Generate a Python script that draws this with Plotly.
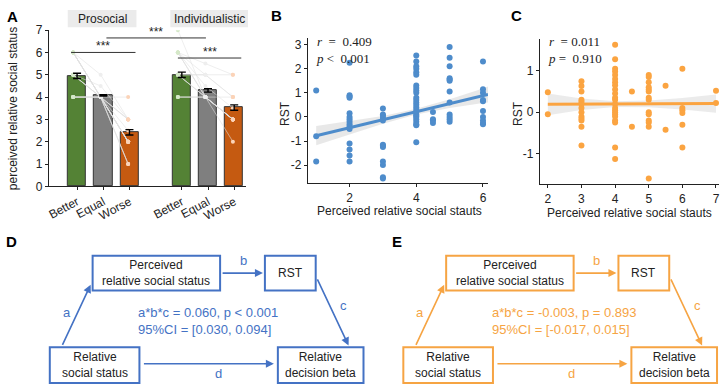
import plotly.graph_objects as go

W, H = 726, 391

# ---------------- DATA ----------------
# Panel A: bar means and SEM
a_positions = [1, 2, 3, 5, 6, 7]
a_categories = ["Better", "Equal", "Worse", "Better", "Equal", "Worse"]
a_means = [4.95, 4.08, 2.42, 5.00, 4.30, 3.53]
a_sem = [0.12, 0.03, 0.12, 0.12, 0.08, 0.12]
a_colors = ["#548235", "#7f7f7f", "#c55a11", "#548235", "#7f7f7f", "#c55a11"]
a_facets = ["Prosocial", "Individualistic"]

# individual subject values (Better, Equal, Worse)
prosocial_subjects = [
    (6, 4, 2), (6, 4, 3), (6, 5, 3), (6, 4, 2), (5, 4, 2), (5, 4, 3),
    (4, 4, 2), (4, 4, 1), (4, 4, 1), (6, 4, 2), (5, 4.5, 3), (6, 4, 2),
    (4, 4, 2), (5, 4, 4), (6, 4, 1), (4, 4, 3), (5, 4, 2), (6, 4, 2.5),
]
individualistic_subjects = [
    (7, 4, 3), (6, 5, 4), (6, 4, 3), (6, 5.5, 5), (5, 4, 3), (5, 5, 4),
    (4, 4, 3), (4, 4, 2), (6, 4, 3), (5, 4, 3), (6, 4.5, 3.5), (5, 5, 5),
    (4, 4, 4), (6, 4, 3), (5, 4, 3),
]
# significance brackets: (x_start, x_end, y, label)
brackets = [(0.77, 3.23, 6.0, "***"), (2.12, 5.92, 6.65, "***"), (4.85, 7.27, 5.75, "***")]

# Panel B scatter
b_x = ([1] * 3 + [2] * 15 + [3] * 12 + [4] * 25 + [4.5] * 4 + [5] * 12 + [6] * 10)
b_y = ([1.1, -0.8, -1.85] +
       [2.25, 0.9, 0.85, 0.8, 0.15, 0.0, -0.1, -0.2, -0.3, -0.4, -0.5, -1.1, -1.35, -1.6, -1.85] +
       [0.35, 0.1, 0.05, -0.05, -0.15, -1.15, -1.2, -1.25, -1.85, -2.0, -2.5, -2.55] +
       [2.55, 2.3, 2.1, 2.0, 1.85, 1.75, 1.3, 1.2, 1.1, 1.0, 0.8, 0.7, 0.6, 0.5, 0.4, 0.3,
        0.2, 0.1, 0.05, 0.0, -0.1, -0.2, -0.3, -0.35, -1.05] +
       [0.2, -0.1, -0.15, -0.25] +
       [2.9, 2.45, 2.1, 1.6, 1.55, 1.5, 1.05, 0.6, 0.1, 0.0, -0.1, -0.2] +
       [2.3, 1.15, 1.0, 0.7, 0.65, 0.25, 0.0, -0.15, -0.25, -0.3])
b_fit_x = [1, 2, 3, 4, 5, 6, 6.15]
b_fit_y = [-0.78, -0.45, -0.12, 0.22, 0.55, 0.88, 0.93]
b_fit_half = [0.40, 0.27, 0.16, 0.12, 0.18, 0.30, 0.33]
b_stats = "<i>r</i>  =  0.409<br><i>p</i> <  0.001"

# Panel C scatter
c_x = ([2] * 2 + [3] * 13 + [4] * 22 + [4.5] * 2 + [5] * 14 + [5.5] * 2 + [6] * 6 + [7] * 2)
c_y = ([0.48, -0.05] +
       [0.75, 0.63, 0.5, 0.3, 0.25, 0.2, 0.1, 0.0, -0.1, -0.15, -0.2, -0.35, -0.8] +
       [1.63, 1.28, 1.05, 0.98, 0.9, 0.8, 0.72, 0.65, 0.55, 0.45, 0.35, 0.3, 0.2, 0.1,
        0.05, 0.0, -0.05, -0.1, -0.2, -0.25, -0.85, -1.13] +
       [0.5, -0.35] +
       [0.9, 0.85, 0.72, 0.6, 0.55, 0.5, 0.35, 0.3, 0.0, -0.05, -0.2, -0.25, -0.35, -1.6] +
       [0.64, -0.42] +
       [1.05, 0.1, 0.05, -0.02, -0.3, -0.85] +
       [0.52, 0.22])
c_fit_x = [2, 3, 4, 5, 6, 7]
c_fit_y = [0.19, 0.192, 0.195, 0.2, 0.205, 0.21]
c_fit_half = [0.26, 0.14, 0.07, 0.08, 0.14, 0.22]
c_stats = "<i>r</i>  = 0.011<br><i>p</i> =  0.910"

x_title = "Perceived relative social stauts"

# Panels D / E mediation diagrams
med_boxes = ["Perceived<br>relative social status", "RST", "Relative<br>social status", "Relative<br>decision beta"]
med_paths = ["a", "b", "c", "d"]
d_result = ["a*b*c = 0.060, p < 0.001", "95%CI = [0.030, 0.094]"]
e_result = ["a*b*c = -0.003, p = 0.893", "95%CI = [-0.017, 0.015]"]

BLUE = "#4E8CCB"
ORANGE = "#FBA441"
D_BLUE = "#4472C4"
E_ORANGE = "#F6A443"
FONT = "Liberation Sans, Arial, sans-serif"


def dx(p):
    return p / W


def dy(p):
    return 1 - p / H


def ann(x, y, text, size=12, color="#222", family=FONT, xref="x9", yref="y9",
        xanchor="center", yanchor="middle", **kw):
    d = dict(xref=xref, yref=yref, x=x, y=y, text=text, showarrow=False,
             xanchor=xanchor, yanchor=yanchor,
             font=dict(size=size, color=color, family=family))
    d.update(kw)
    return d


fig = go.Figure()

# ---------------- Panel A ----------------
fig.add_trace(go.Bar(x=a_positions, y=a_means, width=0.69,
                     marker=dict(color=a_colors, line=dict(color="#333333", width=1)),
                     xaxis="x", yaxis="y", showlegend=False, hoverinfo="skip"))

for subjects, base in ((prosocial_subjects, 1), (individualistic_subjects, 5)):
    for s in subjects:
        fig.add_trace(go.Scatter(
            x=[base - 0.15, base + 1 - 0.1, base + 2 - 0.05], y=list(s), mode="lines+markers",
            line=dict(color="rgba(225,225,225,0.7)", width=0.8),
            marker=dict(size=4, color=["#d5e8c8", "#eeeeee", "#fbd3b8"]),
            xaxis="x", yaxis="y", showlegend=False, hoverinfo="skip"))

fig.add_trace(go.Scatter(x=a_positions, y=a_means, mode="markers",
                         marker=dict(size=1, color="black", opacity=0),
                         error_y=dict(type="data", array=a_sem, color="black", thickness=1.4, width=4),
                         xaxis="x", yaxis="y", showlegend=False, hoverinfo="skip"))

shapes = []
annotations = []
for x0, x1, yv, lab in brackets:
    shapes.append(dict(type="line", xref="x", yref="y", x0=x0, x1=x1, y0=yv, y1=yv,
                       line=dict(color="#333333", width=1)))
    annotations.append(ann((x0 + x1) / 2, yv, lab, xref="x", yref="y", yanchor="bottom", yshift=-3))

# facet strips (pixel overlay coords)
for (lx0, lx1), lab in zip(((66, 135), (169, 247)), a_facets):
    shapes.append(dict(type="rect", xref="x9", yref="y9", x0=lx0, x1=lx1, y0=3, y1=21,
                       fillcolor="#ebebeb", line=dict(width=0), layer="below"))
    annotations.append(ann((lx0 + lx1) / 2, 12.5, lab, size=12))

annotations.append(ann(11, 105, "perceived relative social status", textangle=-90))

# ---------------- Panel B ----------------
fig.add_trace(go.Scatter(x=b_fit_x + b_fit_x[::-1],
                         y=[m + h for m, h in zip(b_fit_y, b_fit_half)] +
                           [m - h for m, h in zip(b_fit_y, b_fit_half)][::-1],
                         fill="toself", fillcolor="rgba(190,190,190,0.35)", line=dict(width=0),
                         mode="lines", xaxis="x2", yaxis="y2", showlegend=False, hoverinfo="skip"))
fig.add_trace(go.Scatter(x=b_x, y=b_y, mode="markers", marker=dict(size=6, color=BLUE),
                         xaxis="x2", yaxis="y2", showlegend=False, hoverinfo="skip"))
fig.add_trace(go.Scatter(x=b_fit_x, y=b_fit_y, mode="lines", line=dict(color=BLUE, width=3),
                         xaxis="x2", yaxis="y2", showlegend=False, hoverinfo="skip"))

# ---------------- Panel C ----------------
fig.add_trace(go.Scatter(x=c_fit_x + c_fit_x[::-1],
                         y=[m + h for m, h in zip(c_fit_y, c_fit_half)] +
                           [m - h for m, h in zip(c_fit_y, c_fit_half)][::-1],
                         fill="toself", fillcolor="rgba(190,190,190,0.3)", line=dict(width=0),
                         mode="lines", xaxis="x3", yaxis="y3", showlegend=False, hoverinfo="skip"))
fig.add_trace(go.Scatter(x=c_x, y=c_y, mode="markers", marker=dict(size=6, color=ORANGE),
                         xaxis="x3", yaxis="y3", showlegend=False, hoverinfo="skip"))
fig.add_trace(go.Scatter(x=c_fit_x, y=c_fit_y, mode="lines", line=dict(color=ORANGE, width=3),
                         xaxis="x3", yaxis="y3", showlegend=False, hoverinfo="skip"))

SERIF = "Liberation Serif, DejaVu Serif, serif"
annotations += [
    ann(313, 26, b_stats, size=13, family=SERIF, xanchor="left", yanchor="top", align="left"),
    ann(546, 26, c_stats, size=13, family=SERIF, xanchor="left", yanchor="top", align="left"),
    ann(399, 212, x_title),
    ann(630, 214, x_title),
    ann(284, 110, "RST", textangle=-90),
    ann(518, 110, "RST", textangle=-90),
]

# panel letters
for lab, px, py in (("A", 11, 10), ("B", 276, 9), ("C", 517, 9), ("D", 10, 243), ("E", 397, 243)):
    annotations.append(ann(px, py, "<b>%s</b>" % lab, size=15, color="black"))

# ---------------- Panels D / E (overlay pixel axis x9/y9) ----------------
fig.add_trace(go.Scatter(x=[None], y=[None], xaxis="x9", yaxis="y9", showlegend=False, hoverinfo="skip"))


def diagram(off, color, result):
    boxes = [(91, 219, 258, 294), (264, 315, 258, 294), (48, 138, 353, 390), (277, 363, 353, 390)]
    for (x0, x1, y0, y1), txt in zip(boxes, med_boxes):
        shapes.append(dict(type="rect", xref="x9", yref="y9", x0=x0 + off, x1=x1 + off, y0=y0, y1=y1,
                           line=dict(color=color, width=2), fillcolor="rgba(0,0,0,0)"))
        annotations.append(ann((x0 + x1) / 2 + off, (y0 + y1) / 2, txt, size=12))
    arrows = [((60, 352), (89, 288)), ((220, 276), (262, 276)), ((316, 281), (348, 351)),
              ((141, 370), (273, 370))]
    for (tx, ty), (hx, hy) in arrows:
        annotations.append(dict(xref="x9", yref="y9", axref="x9", ayref="y9", x=hx + off, y=hy,
                                ax=tx + off, ay=ty, text="", showarrow=True, arrowhead=2, arrowsize=1,
                                arrowwidth=1.6, arrowcolor=color, standoff=0, startstandoff=0))
    label_pos = [(65, 317), (242, 263), (343, 310), (217, 380)]
    for (lx, ly), lab in zip(label_pos, med_paths):
        annotations.append(ann(lx + off, ly, lab, size=13, color=color))
    annotations.append(ann(135 + off, 326, "<br>".join(result), size=13, color=color,
                           xanchor="left", align="left"))


diagram(0, D_BLUE, d_result)
diagram(355, E_ORANGE, e_result)

# ---------------- layout ----------------
axis_common = dict(showline=True, linecolor="#222", linewidth=1, ticks="outside", ticklen=3,
                   tickcolor="#222", showgrid=False, zeroline=False, fixedrange=True,
                   tickfont=dict(size=12, color="#222", family=FONT))

fig.update_layout(
    width=W, height=H, margin=dict(l=0, r=0, t=0, b=0),
    paper_bgcolor="white", plot_bgcolor="rgba(0,0,0,0)",
    font=dict(family=FONT),
    xaxis=dict(domain=[dx(47), dx(245)], range=[-0.08, 7.45], anchor="y",
               tickvals=a_positions, ticktext=a_categories, tickangle=-28, **axis_common),
    yaxis=dict(domain=[dy(186), dy(24)], range=[0, 7], anchor="x", tickvals=list(range(8)), **axis_common),
    xaxis2=dict(domain=[dx(307), dx(488)], range=[0.746, 6.15], anchor="y2", tickvals=[2, 4, 6], **axis_common),
    yaxis2=dict(domain=[dy(183), dy(32)], range=[-2.76, 3.28], anchor="x2", tickvals=[-2, -1, 0, 1, 2, 3],
                ticktext=["-2", "-1", "0", "1", "2", "3"], **axis_common),
    xaxis3=dict(domain=[dx(540), dx(720)], range=[1.76, 7.09], anchor="y3", tickvals=[2, 3, 4, 5, 6, 7],
                **axis_common),
    yaxis3=dict(domain=[dy(184), dy(33)], range=[-1.74, 1.77], anchor="x3", tickvals=[-1, 0, 1],
                ticktext=["-1", "0", "1"], **axis_common),
    xaxis9=dict(domain=[0, 1], range=[0, W], anchor="y9", visible=False, fixedrange=True),
    yaxis9=dict(domain=[0, 1], range=[H, 0], anchor="x9", visible=False, fixedrange=True),
    shapes=shapes, annotations=annotations, bargap=0,
)

fig.write_html("out.html")
